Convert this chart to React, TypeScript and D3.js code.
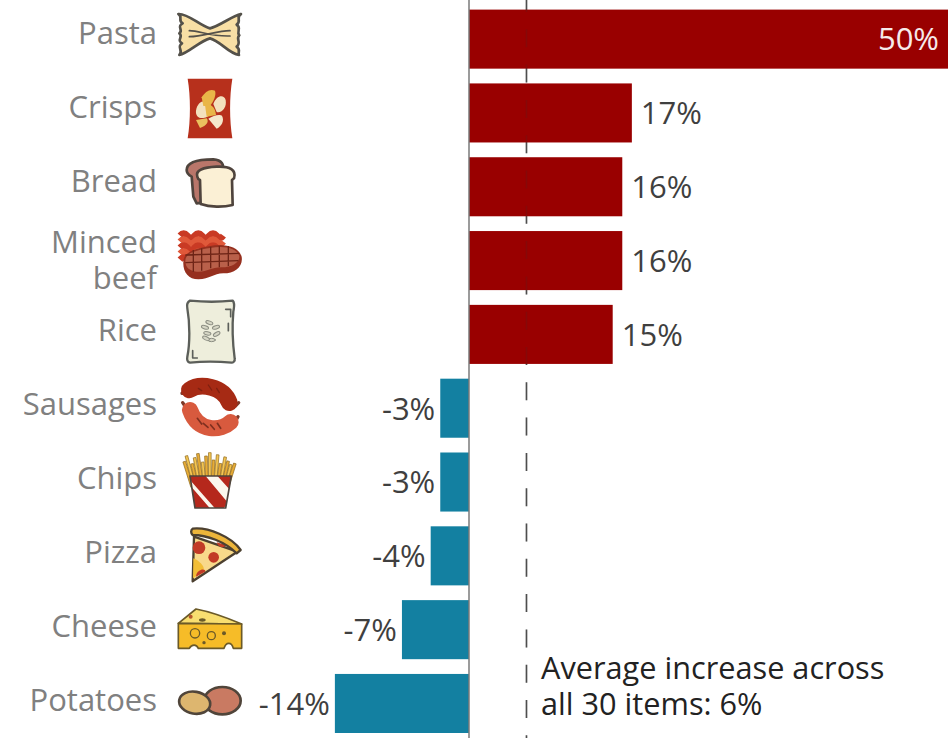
import React from "react";
import * as d3 from "d3";

const categories = ["Pasta", "Crisps", "Bread", "Minced beef", "Rice", "Sausages", "Chips", "Pizza", "Cheese", "Potatoes"];
const changes = [50, 17, 16, 16, 15, -3, -3, -4, -7, -14];
const averageChange = 6;
const averageNote = ["Average increase across", "all 30 items: 6%"];

const RED = "#990000";
const BLUE = "#1380A1";
const FONT = "'Open Sans', 'Noto Sans', sans-serif";
const INK = "#54514a";

const x = d3.scaleLinear().domain([0, 50]).range([469, 948]);
const y = d3.scaleBand<string>().domain(categories).range([9.6, 733]).paddingInner(0.2);
// Category names sit on a slightly wider rhythm than the bars.
const labelY = d3.scaleLinear().domain([0, 9]).range([33, 700.5]);

/* Food pictograms, each authored on a 3x grid and placed through a group transform. */
const Pasta = () => (
  <g strokeLinejoin="round" strokeLinecap="round">
    <path d="M55,42 C85,40 120,78 150,85 C180,78 215,48 243,42 C226,52 246,62 230,74 C246,84 228,94 238,106 C226,116 246,128 230,140 C244,150 232,158 237,165 C205,160 180,122 150,115 C120,122 85,160 58,165 C72,152 48,142 66,130 C48,120 72,110 58,100 C72,90 48,80 68,70 C52,60 70,50 55,42Z" fill="#F8DFA5" stroke={INK} strokeWidth={8} />
    <path d="M88,92 C120,92 150,110 210,108 M88,110 C130,110 170,92 210,92" fill="none" stroke={INK} strokeWidth={5} />
  </g>
);

const Crisps = () => (
  <g strokeLinejoin="round">
    <path d="M83,236 L217,236 C208,290 208,360 217,415 L83,415 C92,360 92,290 83,236Z" fill="#B7301C" />
    <path d="M108,332 C113,300 140,296 150,315 C165,332 150,352 130,354 C116,356 106,347 108,332Z" fill="#F3E1BE" />
    <path d="M125,292 C135,275 150,265 165,272 C170,285 160,305 150,318 L130,318Z" fill="#E9B648" />
    <path d="M160,312 C170,285 192,283 197,300 C201,322 186,340 170,336Z" fill="#F3E1BE" />
    <path d="M135,315 C150,310 165,318 168,345 L140,350Z" fill="#E9B648" />
    <path d="M145,356 C160,345 180,342 186,347 C194,362 185,378 170,386Z" fill="#F5E8CB" />
    <path d="M108,360 L140,355 C148,365 140,378 120,384Z" fill="#EBC05E" />
  </g>
);

const Bread = () => (
  <g strokeLinejoin="round" stroke="#4f443d" strokeWidth={8}>
    <path d="M80,510 C80,485 120,478 160,478 C185,480 195,495 185,510 L185,600 L110,610 L100,590 L95,530 C85,525 80,520 80,510Z" fill="#B9766A" />
    <path d="M112,530 C105,510 130,502 170,500 C210,498 230,510 222,535 L216,540 L218,615 C190,622 150,622 122,612 L120,540 C115,538 113,535 112,530Z" fill="#FBF0D5" />
  </g>
);

const MincedBeef = () => (
  <g>
    {d3.range(5).map((row) => (
      <path
        key={row}
        d={`M60,${47 + row * 18} q11,-13 22,0 t22,0 t22,0 t22,0 t22,0 t20,0`}
        fill="none"
        stroke={row % 2 ? "#E0593A" : "#C93A24"}
        strokeWidth={19}
      />
    ))}
    <path d="M70,125 C70,95 110,85 150,78 C190,70 235,78 245,110 C250,140 225,160 190,160 C160,160 150,178 115,178 C85,178 68,155 70,125Z" fill="#96301F" />
    <path d="M76,122 C76,98 112,90 150,84 C190,76 230,82 238,108 C240,128 215,142 185,142 C150,142 140,158 110,155 C88,152 76,142 76,122Z" fill="#B9604A" />
    <path d="M100,90 L100,155 M125,85 L125,152 M152,80 L152,145 M178,78 L178,142 M205,78 L205,138 M76,105 L238,100 M76,128 L235,122" fill="none" stroke="#6e2416" strokeWidth={4} />
  </g>
);

const Rice = () => (
  <g fill="none" stroke="#5c5f5a" strokeLinecap="round" strokeLinejoin="round">
    <path d="M90,242 C130,246 180,246 218,242 C226,250 222,262 220,275 C216,320 218,370 224,415 C226,425 218,428 215,428 C170,424 130,424 90,428 C82,426 80,420 82,410 C90,370 90,310 82,265 C80,255 82,246 90,242Z" fill="#EEEEDC" strokeWidth={7} />
    <path d="M197,268 L212,268 L212,290 M205,310 L205,332 M98,392 L98,414 L112,414" strokeWidth={5} />
    <g fill="#d7d7c6" stroke="#8d8f84" strokeWidth={3}>
      {[[148, 308, 20], [168, 322, -15], [135, 322, 15], [142, 340, 10], [170, 342, -30], [155, 360, 0], [138, 355, 25]].map(([cx, cy, r], i) => (
        <ellipse key={i} cx={cx} cy={cy} rx={11} ry={5} transform={`rotate(${r} ${cx} ${cy})`} />
      ))}
    </g>
  </g>
);

const Sausages = () => (
  <g fill="none" strokeLinecap="round">
    <path d="M80,515 L66,520 M226,558 L236,548 M78,563 L68,548 M222,610 L234,590" stroke="#7d3a2a" strokeWidth={10} />
    <path d="M88,510 C120,488 190,498 208,548" stroke="#A62A14" strokeWidth={50} />
    <path d="M90,570 C115,640 185,632 212,606" stroke="#D85A3E" strokeWidth={48} />
    <path d="M115,505 L125,512 M145,495 L155,510 M170,505 L178,518" stroke="#7f2010" strokeWidth={4} />
    <path d="M112,595 L125,612 M130,610 L144,622 M152,615 L163,628 M172,610 L182,625" stroke="#7f2f1f" strokeWidth={5} />
  </g>
);

const friesTop = [62, 45, 70, 52, 40, 66, 48, 38, 60, 44, 70, 50, 62, 72, 68];

const Chips = () => (
  <g strokeLinejoin="round">
    <g stroke="#8f6a1e" strokeWidth={2}>
      {friesTop.map((t, i) => (
        <rect key={i} x={86 + i * 8.5} y={t} width={8} height={80} fill={i % 2 ? "#F4C653" : "#E8AC36"} transform={`rotate(${(i - 7) * 2.5} ${90 + i * 8.5} 120)`} />
      ))}
    </g>
    <clipPath id="chips-box"><path d="M90,108 L214,108 L197,204 L105,204Z" /></clipPath>
    <g clipPath="url(#chips-box)">
      <rect x={85} y={100} width={135} height={110} fill="#fbf6ec" />
      <path d="M85,130 L150,205 L105,205 L85,175Z M90,100 L130,100 L205,190 L190,205 L165,205 L90,120Z M165,100 L215,100 L215,155Z" fill="#B5281C" />
    </g>
    <path d="M90,108 L214,108 L197,204 L105,204Z" fill="none" stroke="#4f443d" strokeWidth={5} />
  </g>
);

const Pizza = () => (
  <g strokeLinejoin="round">
    <path d="M102,290 L232,335 L98,424Z" fill="#F8D98A" stroke="#4c4030" strokeWidth={7} />
    <path d="M100,355 C115,360 145,385 125,398 L99,415Z" fill="#F2BE36" />
    <circle cx={117} cy={323} r={19} fill="#C23A26" />
    <circle cx={161} cy={352} r={16} fill="#C23A26" />
    <path d="M170,307 C175,325 192,325 198,315Z" fill="#C23A26" />
    <path d="M108,410 C110,385 140,385 135,395Z" fill="#C23A26" />
    <path d="M98,266 C145,261 215,290 242,330 L230,340 C195,305 140,285 98,285 C92,280 92,270 98,266Z" fill="#EDB53A" stroke="#4c4030" strokeWidth={7} />
  </g>
);

const Cheese = () => (
  <g strokeLinejoin="round">
    <path d="M55,550 L108,507 C150,515 205,535 245,552Z" fill="#F8DE70" stroke="#6b5a28" strokeWidth={5} />
    <path d="M55,550 L245,552 L245,625 L220,625 C215,605 198,605 192,625 L115,625 C110,612 95,612 88,625 L55,625Z" fill="#F6BC28" stroke="#6b5a28" strokeWidth={5} />
    <circle cx={105} cy={580} r={14} fill="#F6BC28" stroke="#6b5a28" strokeWidth={4} />
    <circle cx={154} cy={587} r={12} fill="#F6BC28" stroke="#6b5a28" strokeWidth={4} />
    <circle cx={192} cy={580} r={6} fill="#6b5a28" />
    <circle cx={132} cy={608} r={5} fill="#6b5a28" />
    <ellipse cx={127} cy={540} rx={10} ry={5} fill="#6b5a28" />
    <circle cx={92} cy={530} r={6} fill="#B5562C" />
  </g>
);

const Potatoes = () => (
  <g stroke="#50453a" strokeWidth={8}>
    <ellipse cx={187} cy={782} rx={55} ry={41} fill="#C97A62" />
    <ellipse cx={104} cy={788} rx={47} ry={33} fill="#DDB66F" transform="rotate(10 104 788)" />
  </g>
);

const pictograms: [React.FC, number][] = [
  [Pasta, 0], [Crisps, 0], [Bread, 0], [MincedBeef, 220], [Rice, 220],
  [Sausages, 220], [Chips, 440], [Pizza, 440], [Cheese, 440], [Potatoes, 440],
];

export default function App() {
  const zero = x(0);
  const avg = x(averageChange);
  const labelStyle = { fontFamily: FONT, fontSize: 31 };

  return (
    <svg width={952} height={738} style={{ position: "absolute", left: 0, top: 0, background: "#fff" }}>
      {/* dashed marker for the average, behind the bars */}
      <line x1={avg} x2={avg} y1={-6} y2={738} stroke="#555" strokeWidth={1.6} strokeDasharray="18 17.3" />

      {categories.map((c, i) => {
        const v = changes[i];
        const top = y(c)!;
        const h = y.bandwidth();
        const mid = top + h / 2;
        const bar = v >= 0
          ? { x: zero, width: x(v) - zero }
          : { x: x(v), width: zero - x(v) };
        const inside = v === d3.max(changes);
        const text = `${v}%`;
        const words = c.split(" ");
        const [Icon, oy] = pictograms[i];
        return (
          <g key={c}>
            <rect x={bar.x} y={top} width={bar.width} height={h} fill={v >= 0 ? RED : BLUE} />
            {words.length === 1 ? (
              <text x={157} y={labelY(i)} dy="0.35em" textAnchor="end" fill="#808080" style={labelStyle}>{c}</text>
            ) : (
              <text textAnchor="end" fill="#808080" style={labelStyle}>
                <tspan x={157} y={mid - 18} dy="0.35em">{words[0]}</tspan>
                <tspan x={157} y={mid + 18} dy="0.35em">{words[1]}</tspan>
              </text>
            )}
            <g transform={`translate(160 ${oy}) scale(${1 / 3})`}>
              <Icon />
            </g>
            <text
              x={inside ? x(v) - 9 : v >= 0 ? x(v) + 9 : x(v) - 5}
              y={mid + 0.5}
              dy="0.35em"
              textAnchor={inside || v < 0 ? "end" : "start"}
              fill={inside ? "#f6eaea" : "#3f3f3f"}
              style={labelStyle}
            >
              {text}
            </text>
          </g>
        );
      })}

      {/* faint trace of the average marker showing through the red bars */}
      <line x1={avg} x2={avg} y1={-6} y2={738} stroke="#333" strokeWidth={1.6} strokeDasharray="18 17.3" opacity={0.18} />
      <line x1={zero} x2={zero} y1={0} y2={738} stroke="#7a7a7a" strokeWidth={1.5} />

      <text fill="#222" style={{ fontFamily: FONT, fontSize: 30.7 }}>
        <tspan x={541} y={679}>{averageNote[0]}</tspan>
        <tspan x={541} y={715}>{averageNote[1]}</tspan>
      </text>
    </svg>
  );
}
